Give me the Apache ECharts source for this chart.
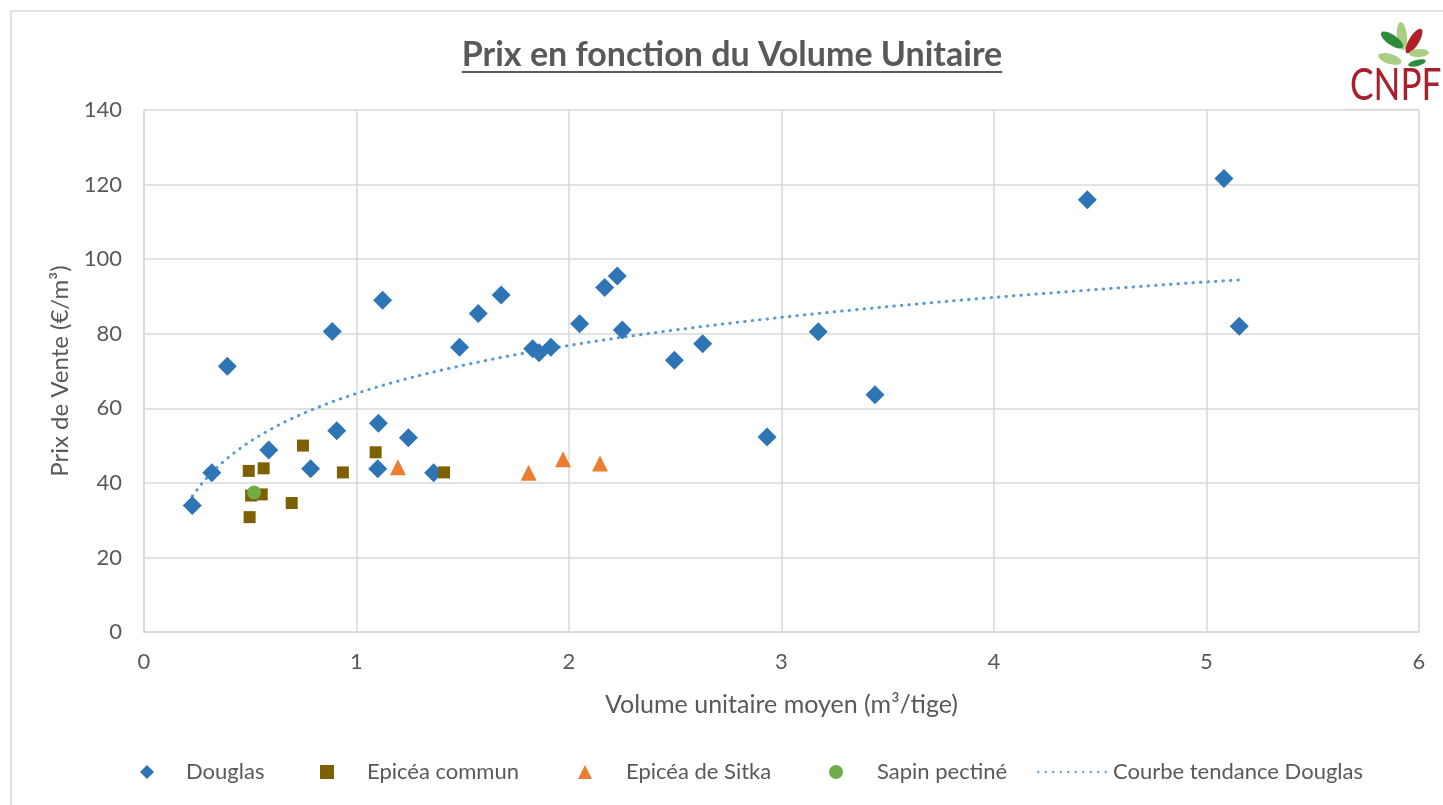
<!DOCTYPE html>
<html>
<head>
<meta charset="utf-8">
<script src="https://cdn.jsdelivr.net/npm/echarts@6/dist/echarts.min.js"></script>
<style>
html,body{margin:0;padding:0;background:#fff;}
#chart{width:1443px;height:805px;}
</style>
</head>
<body>
<div id="chart"></div>
<script>
// ---- Data ----
const douglasX = [0.227,0.319,0.392,0.587,0.784,0.886,0.907,1.100,1.103,1.123,1.244,1.363,1.485,1.573,1.681,1.829,1.859,1.915,2.050,2.168,2.227,2.251,2.496,2.629,2.932,3.173,3.440,4.439,5.082,5.154];
const douglasY = [33.9,42.7,71.3,48.8,43.8,80.6,54.0,43.8,56.0,89.0,52.1,42.7,76.4,85.4,90.4,76.0,74.9,76.4,82.7,92.4,95.5,81.0,72.9,77.3,52.3,80.5,63.6,115.9,121.6,82.0];
const epiceaX = [0.493,0.563,0.748,0.936,1.090,1.412,0.504,0.554,0.695,0.497];
const epiceaY = [43.2,43.9,50.0,42.8,48.2,42.8,36.6,36.9,34.6,30.8];
const sitkaX = [1.195,1.810,1.972,2.146];
const sitkaY = [44.2,42.7,46.3,45.2];
const sapinX = [0.518];
const sapinY = [37.4];
const xTicks = [0,1,2,3,4,5,6];
const yTicks = [0,20,40,60,80,100,120,140];
const seriesNames = ['Douglas','Epicéa commun','Epicéa de Sitka','Sapin pectiné','Courbe tendance Douglas'];
const titleText = 'Prix en fonction du Volume Unitaire';
const xAxisName = 'Volume unitaire moyen (m³/tige)';
const yAxisName = 'Prix de Vente (€/m³)';

// ---- helpers ----
const zip = (xs, ys) => xs.map((x, i) => [x, ys[i]]);
// logarithmic least-squares trend (like Excel's log trendline) on Douglas data
function logTrend(xs, ys, n) {
  const lx = xs.map(Math.log);
  const mx = lx.reduce((a, b) => a + b, 0) / lx.length;
  const my = ys.reduce((a, b) => a + b, 0) / ys.length;
  let sxy = 0, sxx = 0;
  lx.forEach((v, i) => { sxy += (v - mx) * (ys[i] - my); sxx += (v - mx) * (v - mx); });
  const b = sxy / sxx, a = my - b * mx;
  const x0 = Math.min(...xs), x1 = Math.max(...xs);
  const pts = [];
  for (let i = 0; i <= n; i++) {
    const x = x0 + (x1 - x0) * i / n;
    pts.push([x, a + b * Math.log(x)]);
  }
  return pts;
}

const FONT = 'Lato';
const GREY = '#595959';

const cvs = document.createElement('canvas').getContext('2d');
cvs.font = 'bold 34px ' + FONT;
const titleW = cvs.measureText(titleText).width;
const titleCx = 732;

const chart = echarts.init(document.getElementById('chart'), null, {renderer: 'canvas'});

function legendAt(name, left, pad, w, hideSymbol) {
  const l = {
    data: [name], left: left, top: 761, itemWidth: w || 14, itemHeight: 14,
    padding: 0,
    textStyle: {color: GREY, fontSize: 22, fontFamily: FONT, padding: [0, 0, 0, pad]}
  };
  if (hideSymbol) l.itemStyle = {opacity: 0};
  return l;
}

function leaf(x, y, rx, ry, rot, color) {
  return {type: 'ellipse', x: x, y: y, rotation: rot, shape: {cx: 0, cy: 0, rx: rx, ry: ry}, style: {fill: color}, silent: true};
}

const option = {
  backgroundColor: '#ffffff',
  animation: false,
  textStyle: {fontFamily: FONT},
  grid: {left: 144, right: 24, top: 110, bottom: 173, containLabel: false},
  xAxis: {
    type: 'value', min: 0, max: 6, interval: 1,
    name: xAxisName, nameLocation: 'middle', nameGap: 60,
    nameTextStyle: {color: GREY, fontSize: 25, fontFamily: FONT},
    axisLine: {show: true, lineStyle: {color: '#d9d9d9', width: 1.5}},
    axisTick: {show: false},
    axisLabel: {color: GREY, fontSize: 22, fontFamily: FONT, margin: 19},
    splitLine: {show: true, lineStyle: {color: '#d9d9d9', width: 1.5}}
  },
  yAxis: {
    type: 'value', min: 0, max: 140, interval: 20,
    name: yAxisName, nameLocation: 'middle', nameGap: 72, nameRotate: 90,
    nameTextStyle: {color: GREY, fontSize: 24, fontFamily: FONT},
    axisLine: {show: true, lineStyle: {color: '#d9d9d9', width: 1.5}},
    axisTick: {show: false},
    axisLabel: {color: GREY, fontSize: 22, fontFamily: FONT, margin: 22},
    splitLine: {show: true, lineStyle: {color: '#d9d9d9', width: 1.5}}
  },
  legend: [
    legendAt(seriesNames[0], 140, 27),
    legendAt(seriesNames[1], 320, 28),
    legendAt(seriesNames[2], 578, 29),
    legendAt(seriesNames[3], 829, 29),
    legendAt(seriesNames[4], 1037, 2, 68, true)
  ],
  series: [
    {name: seriesNames[4], type: 'line', data: logTrend(douglasX, douglasY, 120), showSymbol: false, symbol: 'none', smooth: false,
     lineStyle: {color: '#5B9BD5', width: 3, type: [0.5, 7], cap: 'round'}, itemStyle: {color: '#5B9BD5'}, z: 2},
    {name: seriesNames[0], type: 'scatter', data: zip(douglasX, douglasY), symbol: 'diamond', symbolSize: 19,
     itemStyle: {color: '#2E75B6', opacity: 1}, z: 3},
    {name: seriesNames[1], type: 'scatter', data: zip(epiceaX, epiceaY), symbol: 'rect', symbolSize: 12,
     itemStyle: {color: '#7F6000', opacity: 1}, z: 3},
    {name: seriesNames[2], type: 'scatter', data: zip(sitkaX, sitkaY), symbol: 'triangle', symbolSize: 16,
     itemStyle: {color: '#ED7D31', opacity: 1}, z: 3},
    {name: seriesNames[3], type: 'scatter', data: zip(sapinX, sapinY), symbol: 'circle', symbolSize: 14,
     itemStyle: {color: '#70AD47', opacity: 1}, z: 4}
  ],
  graphic: [
    {type: 'rect', shape: {x: 11, y: 11, width: 1460, height: 820}, style: {fill: 'none', stroke: '#d9d9d9', lineWidth: 1.5}, silent: true, z: -1},
    {type: 'text', x: titleCx, y: 55, style: {text: titleText, font: 'bold 34px ' + FONT, fill: GREY, textAlign: 'center', textVerticalAlign: 'middle'}, silent: true},
    {type: 'line', shape: {x1: titleCx - titleW / 2, y1: 72, x2: titleCx + titleW / 2, y2: 72}, style: {stroke: GREY, lineWidth: 2}, silent: true},
    // CNPF logo
    {type: 'rect', shape: {x: 1343, y: 14, width: 100, height: 94}, style: {fill: '#ffffff'}, silent: true},
    {type: 'line', shape: {x1: 1343, y1: 109, x2: 1420, y2: 109}, style: {stroke: '#e6e6e6', lineWidth: 1}, silent: true},
    leaf(1402, 36, 5, 14, 0.1, '#a9cf85'),
    leaf(1392, 40, 13, 5, -0.6, '#2e8b3e'),
    leaf(1414, 41, 5, 14, -0.55, '#b0202a'),
    leaf(1390, 59, 12, 5, -0.3, '#a9cf85'),
    leaf(1419, 53, 10, 4, 0.05, '#a9cf85'),
    leaf(1417, 63, 9, 3, 0.25, '#2e8b3e'),
    {type: 'text', x: 1350, y: 86, scaleX: 0.8, style: {text: 'CNPF', font: '44px ' + FONT, fill: '#a8202c', textAlign: 'left', textVerticalAlign: 'middle'}, silent: true}
  ]
};
chart.setOption(option);
</script>
</body>
</html>
